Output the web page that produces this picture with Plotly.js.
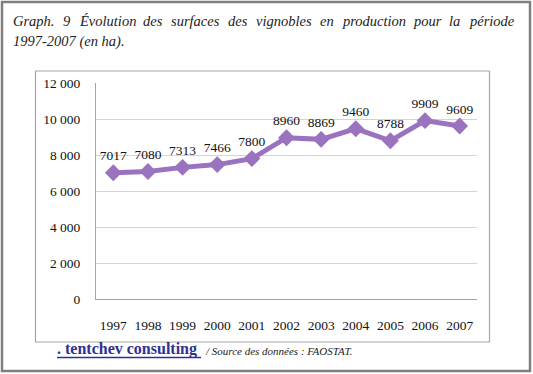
<!DOCTYPE html>
<html>
<head>
<meta charset="utf-8">
<script src="https://cdn.plot.ly/plotly-3.0.1.min.js"></script>
<style>html,body{margin:0;padding:0;background:#fff;}#chart{width:533px;height:374px;}</style>
</head>
<body>
<div id="chart"></div>
<script>
var years = ['1997','1998','1999','2000','2001','2002','2003','2004','2005','2006','2007'];
var surfaces = [7017, 7080, 7313, 7466, 7800, 8960, 8869, 9460, 8788, 9909, 9609];
var yTicks = [0, 2000, 4000, 6000, 8000, 10000, 12000];
var yTickLabels = ['0', '2 000', '4 000', '6 000', '8 000', '10 000', '12 000'];
var titleLine1 = ['Graph.', '9', 'Évolution', 'des', 'surfaces', 'des', 'vignobles', 'en', 'production', 'pour', 'la', 'période'];
var titleLine2 = '1997-2007 (en ha).';
var brand = '. tentchev consulting';
var source = '/ Source des données : FAOSTAT.';

var SERIF = '"Liberation Serif", "Times New Roman", serif';
var TITLE_SIZE = 14.5;

// pixel geometry of plot area
var L = 96, R = 477, T = 83, B = 299;
function px(x){ return (x - L) / (R - L); }
function py(y){ return (B - y) / (B - T); }

// justify first title line between x=12 and x=512 using measured word widths
var ctx = document.createElement('canvas').getContext('2d');
ctx.font = 'italic ' + TITLE_SIZE + 'px "Liberation Serif"';
var widths = titleLine1.map(function(w){ return ctx.measureText(w).width; });
var total = widths.reduce(function(a,b){ return a+b; }, 0);
var gap = (512 - 12 - total) / (titleLine1.length - 1);
var annotations = [];
var cur = 12;
titleLine1.forEach(function(w, i){
  annotations.push({xref:'paper', yref:'paper', x:px(cur - 1), y:py(21), xanchor:'left', yanchor:'middle',
    text:'<i>'+w+'</i>', showarrow:false, font:{family:SERIF, size:TITLE_SIZE, color:'#222'}});
  cur += widths[i] + gap;
});
annotations.push({xref:'paper', yref:'paper', x:px(11), y:py(41), xanchor:'left', yanchor:'middle',
  text:'<i>'+titleLine2+'</i>', showarrow:false, font:{family:SERIF, size:TITLE_SIZE, color:'#222'}});
annotations.push({xref:'paper', yref:'paper', x:px(55), y:py(349), xanchor:'left', yanchor:'middle',
  text:'<b>'+brand+'</b>', showarrow:false, font:{family:SERIF, size:16, color:'#2e3192'}});
annotations.push({xref:'paper', yref:'paper', x:px(203), y:py(351), xanchor:'left', yanchor:'middle',
  text:'<i>'+source+'</i>', showarrow:false, font:{family:SERIF, size:11, color:'#222'}});

var shapes = [
  {type:'rect', xref:'paper', yref:'paper', x0:px(2), x1:px(530), y0:py(371), y1:py(2), line:{color:'#7f7f7f', width:2.5}, layer:'below'},
  {type:'rect', xref:'paper', yref:'paper', x0:px(35.5), x1:px(489.5), y0:py(342), y1:py(71), line:{color:'#a6a6a6', width:1.2}, layer:'below'},
  {type:'line', xref:'paper', yref:'paper', x0:px(57), x1:px(201), y0:py(357.5), y1:py(357.5), line:{color:'#2e3192', width:1.3}}
];

var trace = {
  x: years, y: surfaces, type:'scatter', mode:'lines+markers+text',
  text: surfaces.map(String), textposition:'top center',
  textfont:{family:SERIF, size:13.5, color:'#111'},
  line:{color:'#9b72bf', width:5},
  marker:{symbol:'diamond', size:13, color:'#9b72bf'},
  cliponaxis:false, hoverinfo:'none'
};

var layout = {
  width:533, height:374,
  margin:{l:L, r:533-R, t:T, b:374-B, pad:0},
  paper_bgcolor:'#fff', plot_bgcolor:'#fff',
  showlegend:false,
  font:{family:SERIF},
  xaxis:{type:'category', range:[-0.5, 10.5], showgrid:false, zeroline:false,
    showline:true, linecolor:'#a6a6a6', linewidth:1, ticks:'', ticklabelstandoff:14,
    tickfont:{family:SERIF, size:13.5, color:'#111'}, fixedrange:true},
  yaxis:{range:[0,12000], tickvals:yTicks, ticktext:yTickLabels, showgrid:true, gridcolor:'#d4d4d4', gridwidth:1,
    zeroline:false, showline:true, linecolor:'#a6a6a6', linewidth:1, ticks:'', ticklabelstandoff:12,
    tickfont:{family:SERIF, size:13.5, color:'#111'}, fixedrange:true},
  annotations: annotations,
  shapes: shapes
};

Plotly.newPlot('chart', [trace], layout, {staticPlot:true, displayModeBar:false});
</script>
</body>
</html>
